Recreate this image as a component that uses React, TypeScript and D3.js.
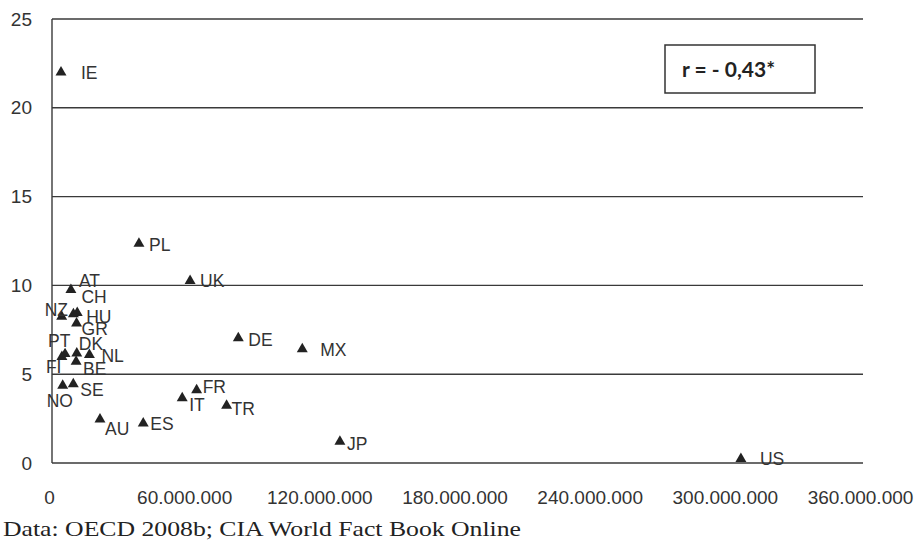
import React, { useEffect, useRef } from 'react';
import * as d3 from 'd3';

// country codes, population (x) and rate (y)
const countries = ['IE', 'PL', 'UK', 'DE', 'MX', 'FR', 'IT', 'TR', 'ES', 'JP', 'US', 'AU',
  'AT', 'NZ', 'CH', 'HU', 'GR', 'PT', 'FI', 'DK', 'BE', 'NL', 'NO', 'SE'];
const population = [4.0e6, 38.6e6, 61.3e6, 82.7e6, 111.1e6, 64.2e6, 57.8e6, 77.5e6, 40.5e6, 127.8e6, 305.8e6, 21.3e6,
  8.4e6, 4.3e6, 9.5e6, 11.2e6, 10.9e6, 5.8e6, 4.4e6, 11.0e6, 10.7e6, 16.6e6, 4.75e6, 9.45e6];
const rate = [22.0, 12.35, 10.26, 7.03, 6.41, 4.11, 3.65, 3.23, 2.24, 1.2, 0.23, 2.46,
  9.75, 8.25, 8.38, 8.46, 7.86, 6.14, 5.98, 6.18, 5.71, 6.09, 4.36, 4.44];

const xTicks = [0, 60e6, 120e6, 180e6, 240e6, 300e6, 360e6];
const yTicks = [0, 5, 10, 15, 20, 25];
const correlation = 'r = - 0,43*';
const source = 'Data: OECD 2008b; CIA World Fact Book Online';

// where each label sits next to its marker (px)
const labelOffset: Record<string, [number, number]> = {
  IE: [20, 7], PL: [10, 7], UK: [10, 6], DE: [10, 8], MX: [18, 7], FR: [6, 3],
  IT: [7, 13], TR: [5, 9], ES: [7, 7], JP: [7, 8], US: [19, 6], AU: [5, 16],
  AT: [8, -3], CH: [8, -11], NZ: [-17, 0], HU: [9, 10], GR: [5, 12], PT: [-17, -7],
  FI: [-16, 16], DK: [2, -3], BE: [7, 13], NL: [12, 7], NO: [-16, 21], SE: [7, 12],
};

const W = 916;
const H = 540;
const ink = '#333';

const App: React.FC = () => {
  const svgRef = useRef<SVGSVGElement | null>(null);

  useEffect(() => {
    const svg = d3.select(svgRef.current);
    svg.selectAll('*').remove();

    const x = d3.scaleLinear().domain([0, 360e6]).range([52, 863]);
    const y = d3.scaleLinear().domain([0, 25]).range([463, 19]);
    const fmt = (v: number) => d3.format(',')(v).replace(/,/g, '.');

    // horizontal grid
    svg.append('g')
      .selectAll('line')
      .data(yTicks)
      .join('line')
      .attr('x1', x(0))
      .attr('x2', x(360e6))
      .attr('y1', d => y(d))
      .attr('y2', d => y(d))
      .attr('stroke', '#3a3a3a')
      .attr('stroke-width', 1.4);

    // left axis line
    svg.append('line')
      .attr('x1', x(0)).attr('x2', x(0))
      .attr('y1', y(25)).attr('y2', y(0))
      .attr('stroke', '#3a3a3a')
      .attr('stroke-width', 1.4);

    const yAxis = svg.append('g')
      .attr('transform', 'translate(32,0)')
      .call(d3.axisLeft(y).tickValues(yTicks).tickSize(0).tickPadding(0).tickFormat(d => String(d)));
    yAxis.select('.domain').remove();
    yAxis.selectAll('text')
      .attr('font-family', 'Liberation Sans, Arial, sans-serif')
      .attr('font-size', 19)
      .attr('fill', ink);

    const xAxis = svg.append('g')
      .attr('transform', `translate(0,${y(0)})`)
      .call(d3.axisBottom(x).tickValues(xTicks).tickSize(0).tickFormat(d => fmt(+d)));
    xAxis.select('.domain').remove();
    xAxis.selectAll('text')
      .attr('y', 41)
      .attr('dy', 0)
      .attr('dx', -3)
      .attr('font-family', 'Liberation Sans, Arial, sans-serif')
      .attr('font-size', 19)
      .attr('fill', ink);

    // markers
    const tri = d3.symbol().type(d3.symbolTriangle).size(52);
    const pts = svg.append('g');
    countries.forEach((c, i) => {
      const px = x(population[i]);
      const py = y(rate[i]);
      pts.append('path')
        .attr('d', tri()!)
        .attr('transform', `translate(${px},${py})`)
        .attr('fill', '#222');
      const [dx, dy] = labelOffset[c];
      pts.append('text')
        .attr('x', px + dx)
        .attr('y', py + dy)
        .attr('font-family', 'Liberation Sans, Arial, sans-serif')
        .attr('font-size', 17.5)
        .attr('fill', ink)
        .text(c);
    });

    // correlation box
    svg.append('rect')
      .attr('x', 665).attr('y', 45)
      .attr('width', 150).attr('height', 48)
      .attr('fill', 'white')
      .attr('stroke', ink)
      .attr('stroke-width', 1.5);
    svg.append('text')
      .attr('x', 682).attr('y', 77)
      .attr('font-family', 'Lato, Open Sans, sans-serif')
      .attr('font-weight', 'bold')
      .attr('font-size', 21)
      .attr('fill', '#222')
      .text(correlation);

    svg.append('text')
      .attr('x', 3).attr('y', 536)
      .attr('font-family', 'Liberation Serif, Times New Roman, serif')
      .attr('font-size', 21)
      .attr('textLength', 518)
      .attr('lengthAdjust', 'spacingAndGlyphs')
      .attr('fill', '#222')
      .text(source);
  }, []);

  return (
    <svg
      ref={svgRef}
      width={W}
      height={H}
      style={{ position: 'absolute', left: 0, top: 0, background: 'white' }}
    />
  );
};

export default App;
